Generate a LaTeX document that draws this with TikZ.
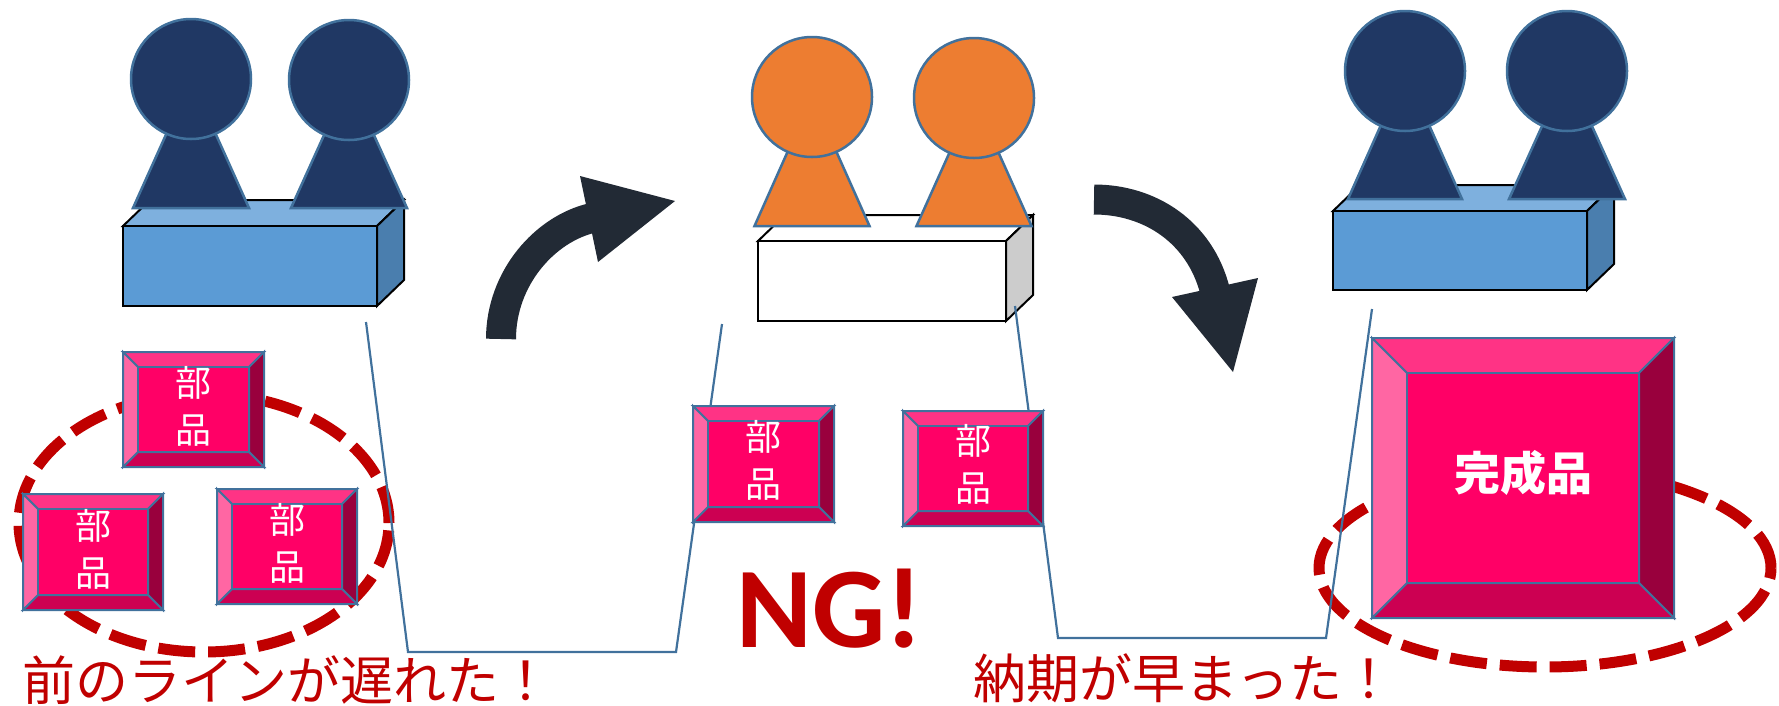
\documentclass[tikz,border=0pt]{standalone}
\usepackage{fontspec}
\usetikzlibrary{calc}
\newfontfamily\jpfont{Noto Sans CJK JP}
\newfontfamily\ngfont{Carlito}

\definecolor{navy}{HTML}{203864}
\definecolor{edge}{HTML}{41719C}
\definecolor{deskfront}{HTML}{5B9BD5}
\definecolor{desktop}{HTML}{7EB0DE}
\definecolor{deskside}{HTML}{4A7EAE}
\definecolor{orangep}{HTML}{ED7D31}
\definecolor{greyside}{HTML}{CCCCCC}
\definecolor{arrowc}{HTML}{222A35}
\definecolor{alert}{HTML}{C00000}
\definecolor{pinkc}{HTML}{FF0066}
\definecolor{pinktop}{HTML}{FF3385}
\definecolor{pinkleft}{HTML}{FF66A3}
\definecolor{pinkbot}{HTML}{CC0052}
\definecolor{pinkright}{HTML}{99003D}

% desk block: front face corners (#1,#2)-(#3,#4), colours front/top/side
\newcommand{\drawdesk}[7]{%
  \filldraw[deskline, fill=#6] (#1,#2) -- ++(27,-26) -- ({#3+27},{#2-26}) -- (#3,#2) -- cycle;
  \filldraw[deskline, fill=#7] (#3,#2) -- ({#3+27},{#2-26}) -- ({#3+27},{#4-26}) -- (#3,#4) -- cycle;
  \filldraw[deskline, fill=#5] (#1,#2) rectangle (#3,#4);
}
% worker figure: name, head centre, base line, half base width, colour
\newcommand{\drawperson}[6]{%
  \filldraw[figline, fill=#6] (#2,#3) -- ({#2-#5},#4) -- ({#2+#5},#4) -- cycle;
  \node[head, fill=#6] (#1) at (#2,#3) {};
}
% bevelled block: name, outer corners, bevel width
\newcommand{\drawbevel}[6]{%
  \pgfmathsetmacro{\bxa}{#2+#6}\pgfmathsetmacro{\bya}{#3+#6}%
  \pgfmathsetmacro{\bxb}{#4-#6}\pgfmathsetmacro{\byb}{#5-#6}%
  \filldraw[bevelline, fill=pinktop] (#2,#3) -- (#4,#3) -- (\bxb,\bya) -- (\bxa,\bya) -- cycle;
  \filldraw[bevelline, fill=pinkright] (#4,#3) -- (#4,#5) -- (\bxb,\byb) -- (\bxb,\bya) -- cycle;
  \filldraw[bevelline, fill=pinkbot] (#4,#5) -- (#2,#5) -- (\bxa,\byb) -- (\bxb,\byb) -- cycle;
  \filldraw[bevelline, fill=pinkleft] (#2,#5) -- (#2,#3) -- (\bxa,\bya) -- (\bxa,\byb) -- cycle;
  \filldraw[bevelline, fill=pinkc] (\bxa,\bya) rectangle (\bxb,\byb);
  \coordinate (#1) at ({(#2+#4)/2},{(#3+#5)/2});
}

\begin{document}
\begin{tikzpicture}[x=1pt, y=-1pt,
  deskline/.style={draw=black, line width=2pt, line join=miter},
  figline/.style={draw=edge, line width=2.5pt, line join=miter},
  head/.style={circle, draw=edge, line width=2.5pt, minimum size=120pt, inner sep=0pt},
  bevelline/.style={draw=edge, line width=2pt, line join=miter},
  callout/.style={draw=edge, line width=2.2pt, line join=miter},
  ring/.style={draw=alert, line width=11pt, dash pattern=on 37pt off 13pt},
  shaft/.style={draw=arrowc, line width=30pt},
  tip/.style={fill=arrowc},
  parttext/.style={text=white, font=\jpfont\fontsize{36}{47}\selectfont, align=center, inner sep=0pt},
  bigtext/.style={text=white, font=\jpfont\bfseries\fontsize{46}{50}\selectfont, inner sep=0pt},
  note/.style={text=alert, inner sep=0pt, anchor=base west, font=\jpfont\fontsize{53}{56}\selectfont}]
\useasboundingbox (0,0) rectangle (1779,705);

% three work stations
\drawdesk{123}{226}{377}{306}{deskfront}{desktop}{deskside}
\drawperson{w1}{191}{79}{208}{58}{navy}
\drawperson{w2}{349}{80}{208}{58}{navy}

\drawdesk{758}{241}{1006}{321}{white}{white}{greyside}
\drawperson{w3}{812}{97}{226}{57.5}{orangep}
\drawperson{w4}{974}{98}{226}{57.5}{orangep}

\drawdesk{1333}{211}{1587}{290}{deskfront}{desktop}{deskside}
\drawperson{w5}{1405}{71}{199}{57}{navy}
\drawperson{w6}{1567}{71}{199}{58}{navy}

% dashed rings
\draw[ring] (204,523) ellipse [x radius=185pt, y radius=129pt];
\draw[ring] (1545,568) ellipse [x radius=226pt, y radius=99pt];

% callout brackets
\coordinate (ca1) at (366,322);
\coordinate (ca2) at (408,652);
\coordinate (ca3) at (676,652);
\coordinate (ca4) at (722,324);
\draw[callout] (ca1) -- (ca2) -- (ca3) -- (ca4);
\coordinate (cb1) at (1015,306);
\coordinate (cb2) at (1058,638);
\coordinate (cb3) at (1326,638);
\coordinate (cb4) at (1372,309);
\draw[callout] (cb1) -- (cb2) -- (cb3) -- (cb4);

% parts
\drawbevel{p1}{123}{352}{264}{467}{15}
\drawbevel{p2}{23}{494}{163}{610}{15}
\drawbevel{p3}{217}{489}{357}{604}{15}
\drawbevel{p4}{693}{406}{834}{522}{15}
\drawbevel{p5}{903}{411}{1043}{526}{15}
\node[parttext] (t1) at ($(p1)+(0,-3)$) {部\\品};
\node[parttext] (t2) at ($(p2)+(0,-3)$) {部\\品};
\node[parttext] (t3) at ($(p3)+(0,-3)$) {部\\品};
\node[parttext] (t4) at ($(p4)+(0,-4)$) {部\\品};
\node[parttext] (t5) at ($(p5)+(0,-4)$) {部\\品};

% finished product
\drawbevel{fp}{1372}{338}{1674}{618}{35}
\node[bigtext] (t6) at ($(fp)+(0,-5)$) {完成品};

% flow arrows
\coordinate (a1s) at (501,339);
\coordinate (a1e) at (592,218);
\draw[shaft] (a1s) .. controls (501,278) and (545,229) .. (a1e);
\fill[tip] (580,176) -- (675,201) -- (598,262) -- cycle;
\coordinate (a2s) at (1094,199.5);
\coordinate (a2e) at (1215,291);
\draw[shaft] (a2s) .. controls (1150,199.5) and (1200,232) .. (a2e);
\fill[tip] (1172,297) -- (1258,278) -- (1233,372) -- cycle;

% captions
\node[text=alert, font=\ngfont\bfseries\fontsize{115}{120}\selectfont, inner sep=0pt, anchor=base] (ng) at (830,647) {NG!};
\node[note] (late) at (22,700) {前のラインが遅れた！};
\node[note] (early) at (973.5,698.5) {納期が早まった！};
\end{tikzpicture}
\end{document}
